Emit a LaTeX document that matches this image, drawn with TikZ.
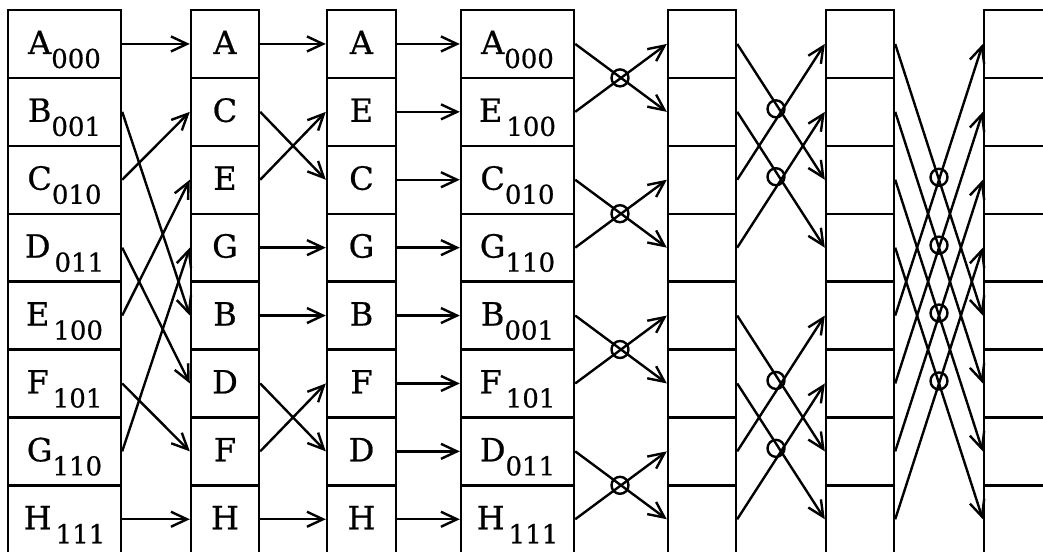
\documentclass[tikz,border=0pt]{standalone}
\usepackage{fontspec}
\setmainfont{DejaVu Serif}[FakeBold=0.7]
\usetikzlibrary{arrows.meta,calc}
\newcommand\mainsz{\fontsize{32}{35}\selectfont}
\newcommand\subsz{\fontsize{26}{29}\selectfont}
\newcommand\lbl[2]{#1\raisebox{-14pt}{\subsz #2}}
\newcommand\lbg[2]{#1\hspace{4pt}\raisebox{-14pt}{\subsz #2}}
\begin{document}
\begin{tikzpicture}[x=1pt,y=-1pt,line width=2.4pt,
  cell/.style={draw,rectangle,inner sep=0pt,minimum height=67.9pt},
  lab/.style={anchor=base,inner sep=0pt,font=\mainsz},
  wire/.style={-{Straight Barb[length=16pt,width=15pt]}},
  knot/.style={draw,circle,inner sep=0pt,minimum size=17pt}]
\useasboundingbox (0,0) rectangle (1043,551);
% cells
\foreach \c/\cx/\w in {1/64.5/113,2/225/68,3/361.5/69,4/517.5/113,5/702/68,6/860/68,7/1034/100}{
  \foreach \r in {0,...,7}{
    \node[cell,minimum width=\w pt] (c\c-\r) at (\cx,{43.95+67.9*\r}) {};
  }
}
% labels
\foreach \r/\t in {0/{\lbl{A}{000}},1/{\lbl{B}{001}},2/{\lbl{C}{010}},3/{\lbg{D}{011}},4/{\lbg{E}{100}},5/{\lbg{F}{101}},6/{\lbl{G}{110}},7/{\lbg{H}{111}}}
  \node[lab] (l1-\r) at ([yshift=-10pt]c1-\r.center) {\t};
\foreach \r/\t in {0/A,1/C,2/E,3/G,4/B,5/D,6/F,7/H}
  \node[lab] (l2-\r) at ([yshift=-10pt]c2-\r.center) {\t};
\foreach \r/\t in {0/A,1/E,2/C,3/G,4/B,5/F,6/D,7/H}
  \node[lab] (l3-\r) at ([yshift=-10pt]c3-\r.center) {\t};
\foreach \r/\t in {0/{\lbl{A}{000}},1/{\lbg{E}{100}},2/{\lbl{C}{010}},3/{\lbl{G}{110}},4/{\lbl{B}{001}},5/{\lbg{F}{101}},6/{\lbl{D}{011}},7/{\lbg{H}{111}}}
  \node[lab] (l4-\r) at ([yshift=-10pt]c4-\r.center) {\t};
% stage 1
\foreach \s/\d in {0/0,1/4,2/1,3/5,4/2,5/6,6/3,7/7}
  \draw[wire] (c1-\s.east) -- (c2-\d.west);
% stage 2
\foreach \s/\d in {0/0,1/2,2/1,3/3,4/4,5/6,6/5,7/7}
  \draw[wire] (c2-\s.east) -- (c3-\d.west);
% stage 3
\foreach \s in {0,...,7}
  \draw[wire] (c3-\s.east) -- (c4-\s.west);
% stage 4
\foreach \s/\d in {0/1,1/0,2/3,3/2,4/5,5/4,6/7,7/6}
  \draw[wire] (c4-\s.east) -- (c5-\d.west);
% stage 5
\foreach \s/\d in {0/2,2/0,1/3,3/1,4/6,6/4,5/7,7/5}
  \draw[wire] (c5-\s.east) -- (c6-\d.west);
% stage 6
\foreach \s/\d in {0/4,4/0,1/5,5/1,2/6,6/2,3/7,7/3}
  \draw[wire] (c6-\s.east) -- (c7-\d.west);
% knots
\foreach \k in {0,2,4,6}
  \node[knot] (k4-\k) at (620,{10+67.9*(\k+1)}) {};
\foreach \k in {0,1,4,5}
  \node[knot] (k5-\k) at (776,{40.95+67.9*(\k+1)}) {};
\foreach \k in {0,1,2,3}
  \node[knot] (k6-\k) at (939,{41.45+67.9*(\k+2)}) {};
\end{tikzpicture}
\end{document}
